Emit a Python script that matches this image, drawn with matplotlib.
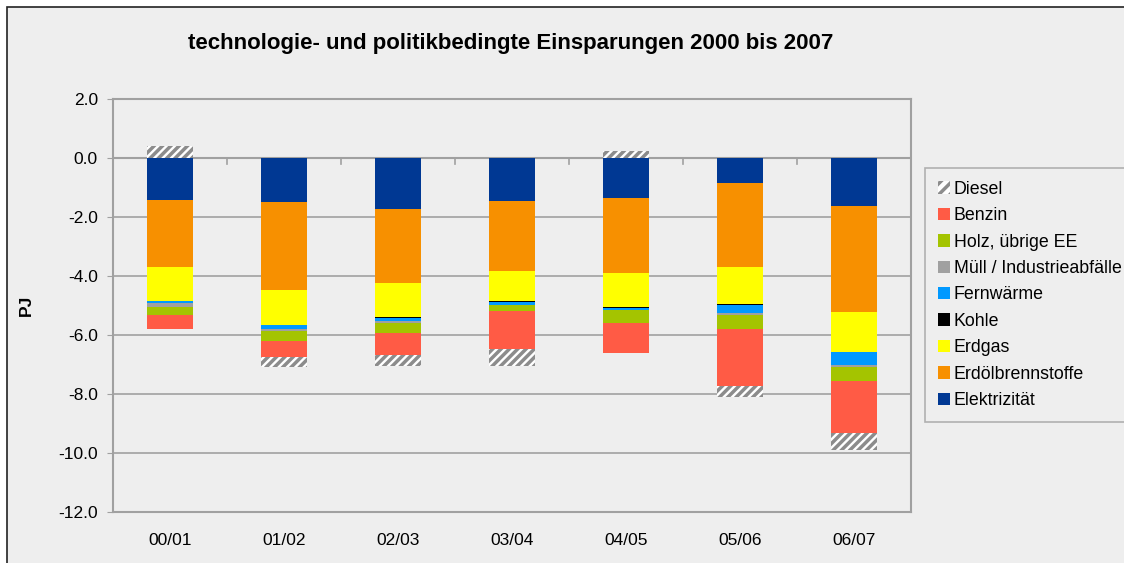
import matplotlib
matplotlib.use("Agg")
import matplotlib.pyplot as plt
import numpy as np
from matplotlib.patches import Rectangle, Patch

plt.rcParams['font.family'] = ['Liberation Sans', 'DejaVu Sans']
plt.rcParams['hatch.linewidth'] = 2.5
plt.rcParams['hatch.color'] = '#8c8c8c'

categories = ["00/01", "01/02", "02/03", "03/04", "04/05", "05/06", "06/07"]

# values in PJ (stack order from 0 downward)
elektrizitaet = [-1.41, -1.48, -1.72, -1.45, -1.35, -0.84, -1.62]
erdoel        = [-2.30, -2.98, -2.51, -2.37, -2.54, -2.85, -3.59]
erdgas        = [-1.13, -1.19, -1.15, -1.02, -1.15, -1.25, -1.35]
kohle         = [0.00, -0.02, -0.03, -0.03, -0.03, -0.03, 0.00]
fernwaerme    = [-0.09, -0.12, -0.11, -0.10, -0.07, -0.27, -0.44]
muell         = [-0.11, -0.09, -0.09, -0.01, -0.02, -0.07, -0.10]
holz          = [-0.29, -0.31, -0.33, -0.21, -0.42, -0.48, -0.45]
benzin        = [-0.46, -0.55, -0.73, -1.28, -1.02, -1.93, -1.76]
diesel        = [0.39, -0.36, -0.39, -0.58, 0.25, -0.39, -0.60]

series = [
    ("Elektrizität", elektrizitaet, '#003893', None),
    ("Erdölbrennstoffe", erdoel, '#F79000', None),
    ("Erdgas", erdgas, '#FFFF00', None),
    ("Kohle", kohle, '#000000', None),
    ("Fernwärme", fernwaerme, '#0099FF', None),
    ("Müll / Industrieabfälle", muell, '#A0A0A0', None),
    ("Holz, übrige EE", holz, '#A4C400', None),
    ("Benzin", benzin, '#FF5B45', None),
    ("Diesel", diesel, '#FFFFFF', '////'),
]

W, H = 1124, 563
fig = plt.figure(figsize=(W / 100, H / 100), dpi=100, facecolor='white')
fig.patches.append(Rectangle((7 / W, -0.1), 1.2, (H - 7) / H + 0.1,
                             transform=fig.transFigure, facecolor='#EEEEEE',
                             edgecolor='#222222', linewidth=1.2, zorder=-10))

ax = fig.add_axes([113 / W, (H - 512) / H, (911 - 113) / W, (512 - 99) / H])
ax.set_facecolor('#EEEEEE')

x = np.arange(len(categories))
pos_base = np.zeros(len(categories))
neg_base = np.zeros(len(categories))
handles = []
for name, vals, color, hatch in series:
    v = np.array(vals, dtype=float)
    bottoms = np.where(v >= 0, pos_base, neg_base)
    if hatch:
        ax.bar(x, v, 0.40, bottom=bottoms, color=color, hatch=hatch,
               edgecolor='#8c8c8c', linewidth=0, zorder=3)
        handles.append(Patch(facecolor='white', hatch='///', edgecolor='#8c8c8c',
                             linewidth=0, label=name))
    else:
        ax.bar(x, v, 0.40, bottom=bottoms, color=color, linewidth=0, zorder=3)
        handles.append(Patch(facecolor=color, linewidth=0, label=name))
    pos_base = pos_base + np.where(v >= 0, v, 0)
    neg_base = neg_base + np.where(v < 0, v, 0)

ax.set_xlim(-0.5, len(categories) - 0.5)
ax.set_ylim(-12, 2)
ax.set_yticks(np.arange(-12, 2.1, 2))
ax.set_yticklabels([f"{t:.1f}" for t in np.arange(-12, 2.1, 2)])
ax.set_xticks(x)
ax.set_xticklabels(categories)
ax.tick_params(axis='x', length=0, pad=15, labelsize=12.5)
ax.tick_params(axis='y', length=4.3, color='#A0A0A0', labelsize=12.5, pad=6.5)
ax.grid(axis='y', color='#A0A0A0', linewidth=1.2, zorder=0)
ax.set_axisbelow(True)
for s in ax.spines.values():
    s.set_color('#A0A0A0')
    s.set_linewidth(1.5)

# category axis at zero with tick marks between categories
ax.axhline(0, color='#A0A0A0', linewidth=1.5, zorder=2)
for b in x[:-1] + 0.5:
    ax.plot([b, b], [0, -0.2], color='#A0A0A0', linewidth=1.2, zorder=2)

ax.set_ylabel("PJ", fontsize=12.5, fontweight='bold')
ax.yaxis.set_label_coords(-0.099, 0.5)

fig.text(511 / W, 1 - 44 / H, "technologie- und politikbedingte Einsparungen 2000 bis 2007",
         ha='center', va='center', fontsize=16, fontweight='bold')

leg = fig.legend(handles=handles[::-1], loc='upper left',
                 bbox_to_anchor=(925 / W, 1 - 168 / H), frameon=True,
                 fontsize=12.8, handlelength=0.7, handleheight=0.7,
                 handletextpad=0.2, labelspacing=0.53, borderpad=0.72,
                 fancybox=False, borderaxespad=0)
leg.get_frame().set_facecolor('#EEEEEE')
leg.get_frame().set_edgecolor('#A0A0A0')
leg.get_frame().set_linewidth(1.2)

fig.savefig("out.png", dpi=100, facecolor='white')
